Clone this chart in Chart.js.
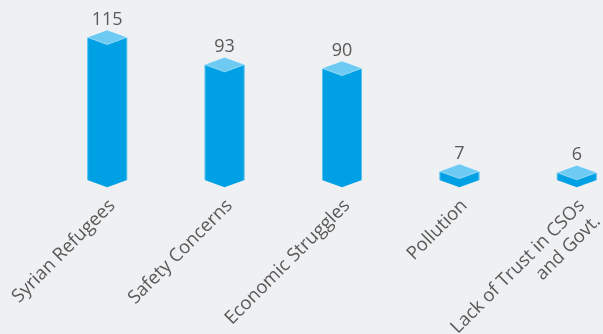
<!DOCTYPE html>
<html>
<head>
<meta charset="utf-8">
<script src="https://cdn.jsdelivr.net/npm/chart.js@4"></script>
<style>
  html, body { margin:0; padding:0; background:#eff0f2; overflow:hidden; }
  #wrap { width:640px; height:334px; }
</style>
</head>
<body>
<div id="wrap"><canvas id="chart"></canvas></div>
<script>
const categories = ['Syrian Refugees', 'Safety Concerns', 'Economic Struggles', 'Pollution', ['Lack of Trust in CSOs', 'and Govt.']];
const counts = [115, 93, 90, 7, 6];

const frontColor = '#00a1e4';
const topColor = '#6dcaf3';

// draws the top diamond, the pointed bottom and the value above each bar
const prismBars = {
    id: 'prismBars',
    afterDatasetsDraw(chart){
        const ctx = chart.ctx;
        const meta = chart.getDatasetMeta(0);
        const d = 7.3;
        ctx.save();
        meta.data.forEach((bar, i) => {
            const x = bar.x, y = bar.y, base = bar.base, w = bar.width;
            const l = x - w/2, r = x + w/2;
            // bottom point
            ctx.beginPath();
            ctx.moveTo(l, base); ctx.lineTo(r, base); ctx.lineTo(x, base + d); ctx.closePath();
            ctx.fillStyle = frontColor;
            ctx.fill();
            // side edges
            ctx.strokeStyle = 'rgba(255,255,255,0.35)';
            ctx.lineWidth = 1;
            ctx.beginPath();
            ctx.moveTo(l + 0.5, y); ctx.lineTo(l + 0.5, base);
            ctx.moveTo(r - 0.5, y); ctx.lineTo(r - 0.5, base);
            ctx.stroke();
            // top diamond
            ctx.beginPath();
            ctx.moveTo(l, y); ctx.lineTo(x, y - d); ctx.lineTo(r, y); ctx.lineTo(x, y + d); ctx.closePath();
            ctx.fillStyle = topColor;
            ctx.fill();
            ctx.strokeStyle = 'rgba(255,255,255,0.45)';
            ctx.stroke();
            // value
            ctx.fillStyle = '#595959';
            ctx.font = '18px "Open Sans"';
            ctx.textAlign = 'center';
            ctx.textBaseline = 'alphabetic';
            ctx.fillText(counts[i], x, y - 12.5);
        });
        ctx.restore();
    }
};

let chart = null;
function loadChart(){
    const ctx = document.getElementById('chart').getContext('2d');
    chart = new Chart(ctx, {
        type: 'bar',
        data: { labels: categories, datasets: [{ data: counts, backgroundColor: frontColor, borderWidth: 0,
            barPercentage: 0.341, categoryPercentage: 1 }] },
        options: {
            responsive: true,
            maintainAspectRatio: false,
            animation: false,
            layout: { padding: { left: 48.5, right: 4.5, top: 0, bottom: 0 } },
            plugins: { legend: { display: false }, tooltip: { enabled: false } },
            scales: {
                x: {
                    grid: { display: false, drawTicks: false },
                    border: { display: false },
                    ticks: { color: '#595959', font: { family: 'Open Sans', size: 18.5, lineHeight: 1.2 }, minRotation: 45, maxRotation: 45,
                        autoSkip: false, padding: 15, labelOffset: 5 },
                    afterFit(scale){ scale.height = 154; scale.paddingLeft = 0; scale.paddingRight = 0; }
                },
                y: { display: false, min: 0, max: 145 }
            }
        },
        plugins: [prismBars]
    });
}

window.onload = () => { loadChart(); };
</script>
</body>
</html>
